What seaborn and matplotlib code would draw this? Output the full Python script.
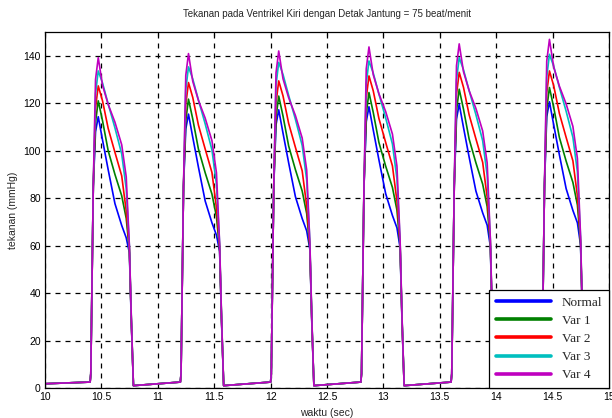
import numpy as np
import pandas as pd
import matplotlib
matplotlib.use("Agg")
import matplotlib.pyplot as plt
import seaborn as sns

# Beat onsets (s) for the six cardiac cycles shown, 0.8 s apart (75 bpm)
beat_starts = [10.4, 11.2, 12.0, 12.8, 13.6, 14.4]
# Time offsets within one beat (s)
beat_offsets = [0.000, 0.006, 0.028, 0.048, 0.072, 0.110, 0.160,
                0.220, 0.280, 0.320, 0.348, 0.365, 0.384]
# Diastolic pressure at the window edges (mmHg)
t_begin, p_begin = 10.0, 1.8
t_end, p_end = 15.0, 1.8

# Left ventricular pressure (mmHg), one row per beat
normal = [
    [2.5, 6, 85, 108.0, 114.3, 104.5, 92.0, 77.7, 68.5, 63.3, 57.0, 28, 1],
    [2.5, 6, 85, 109.1, 115.4, 105.6, 93.1, 78.8, 69.6, 64.4, 57.6, 28, 1],
    [2.5, 6, 85, 110.9, 117.2, 107.4, 94.9, 80.6, 71.4, 66.2, 58.5, 28, 1],
    [2.5, 6, 85, 112.2, 118.5, 108.7, 96.2, 81.9, 72.7, 67.5, 59.1, 28, 1],
    [2.5, 6, 85, 113.3, 119.6, 109.8, 97.3, 83.0, 73.8, 68.6, 59.7, 28, 1],
    [2.5, 6, 85, 114.3, 120.6, 110.8, 98.3, 84.0, 74.8, 69.6, 60.2, 28, 1],
]
var1 = [
    [2.5, 6, 85, 112.0, 121.0, 112.6, 100.0, 90.0, 81.0, 71.5, 58.0, 29, 1],
    [2.5, 6, 85, 112.7, 121.7, 113.3, 100.7, 90.7, 81.7, 72.2, 58.4, 29, 1],
    [2.5, 6, 85, 114.0, 123.0, 114.6, 102.0, 92.0, 83.0, 73.5, 59.0, 29, 1],
    [2.5, 6, 85, 115.5, 124.5, 116.1, 103.5, 93.5, 84.5, 75.0, 59.8, 29, 1],
    [2.5, 6, 85, 116.9, 125.9, 117.5, 104.9, 94.9, 85.9, 76.4, 60.5, 29, 1],
    [2.5, 6, 85, 117.6, 126.6, 118.2, 105.6, 95.6, 86.6, 77.1, 60.8, 29, 1],
]
var2 = [
    [2.5, 6, 85, 118.0, 127.3, 121.0, 109.4, 99.3, 89.4, 74.6, 59.0, 29, 1],
    [2.5, 6, 85, 119.4, 128.7, 122.4, 110.8, 100.7, 90.8, 76.0, 59.7, 29, 1],
    [2.5, 6, 85, 120.1, 129.4, 123.1, 111.5, 101.4, 91.5, 76.7, 60.1, 29, 1],
    [2.5, 6, 85, 122.2, 131.5, 125.2, 113.6, 103.5, 93.6, 78.8, 61.1, 29, 1],
    [2.5, 6, 85, 123.7, 133.0, 126.7, 115.1, 105.0, 95.1, 80.3, 61.9, 29, 1],
    [2.5, 6, 85, 124.3, 133.6, 127.3, 115.7, 105.6, 95.7, 80.9, 62.2, 29, 1],
]
var3 = [
    [2.5, 6, 85, 124.0, 133.6, 128.5, 119.7, 109.6, 98.6, 84.0, 60.0, 30, 1],
    [2.5, 6, 85, 125.7, 135.3, 130.2, 121.4, 111.3, 100.3, 85.7, 60.9, 30, 1],
    [2.5, 6, 85, 127.6, 137.2, 132.1, 123.3, 113.2, 102.2, 87.6, 61.8, 30, 1],
    [2.5, 6, 85, 128.2, 137.8, 132.7, 123.9, 113.8, 102.8, 88.2, 62.1, 30, 1],
    [2.5, 6, 85, 129.6, 139.2, 134.1, 125.3, 115.2, 104.2, 89.6, 62.8, 30, 1],
    [2.5, 6, 85, 131.0, 140.6, 135.5, 126.7, 116.6, 105.6, 91.0, 63.5, 30, 1],
]
var4 = [
    [2.5, 6, 85, 130.0, 139.2, 127.5, 119.5, 112.0, 102.5, 89.0, 60.0, 30, 1],
    [2.5, 6, 85, 131.7, 140.9, 129.2, 121.2, 113.7, 104.2, 90.7, 60.9, 30, 1],
    [2.5, 6, 85, 132.8, 142.0, 130.3, 122.3, 114.8, 105.3, 91.8, 61.4, 30, 1],
    [2.5, 6, 85, 134.5, 143.7, 132.0, 124.0, 116.5, 107.0, 93.5, 62.3, 30, 1],
    [2.5, 6, 85, 135.8, 145.0, 133.3, 125.3, 117.8, 108.3, 94.8, 62.9, 30, 1],
    [2.5, 6, 85, 137.7, 146.9, 135.2, 127.2, 119.7, 110.2, 96.7, 63.9, 30, 1],
]

series_names = ["Normal", "Var 1", "Var 2", "Var 3", "Var 4"]
series_data = [normal, var1, var2, var3, var4]
colors = ["#0000ff", "#008000", "#ff0000", "#00bfbf", "#bf00bf"]
x_ticks = [10, 10.5, 11, 11.5, 12, 12.5, 13, 13.5, 14, 14.5, 15]
y_ticks = [0, 20, 40, 60, 80, 100, 120, 140]

rows = []
for name, beats in zip(series_names, series_data):
    rows.append((name, t_begin, p_begin))
    for start, vals in zip(beat_starts, beats):
        for off, v in zip(beat_offsets, vals):
            rows.append((name, start + off, v))
    rows.append((name, t_end, p_end))
df = pd.DataFrame(rows, columns=["series", "waktu", "tekanan"])

sns.set_theme(style="white")
plt.rcParams["font.family"] = ["Liberation Sans", "DejaVu Sans"]

fig = plt.figure(figsize=(6.12, 4.18), dpi=100)
ax = fig.add_axes([45 / 612, 1 - 388 / 418, (609 - 45) / 612, (388 - 32) / 418])

sns.lineplot(data=df, x="waktu", y="tekanan", hue="series",
             hue_order=series_names, palette=colors, estimator=None,
             sort=False, linewidth=1.2, ax=ax, legend=False)

ax.set_xlim(10, 15)
ax.set_ylim(0, 150)
ax.set_xticks(x_ticks)
ax.set_xticklabels([f"{t:g}" for t in x_ticks])
ax.set_yticks(y_ticks)
ax.grid(True, color="black", linestyle=(0, (4, 4)), linewidth=0.9)
ax.tick_params(direction="in", length=3, width=0.8, labelsize=7.5,
               top=True, right=True, colors="black", pad=3)
for s in ax.spines.values():
    s.set_visible(True)
    s.set_color("black")
    s.set_linewidth(0.9)

ax.set_title("Tekanan pada Ventrikel Kiri dengan Detak Jantung = 75 beat/menit",
             fontsize=7, pad=11)
ax.set_xlabel("waktu (sec)", fontsize=7.5, labelpad=4)
ax.set_ylabel("tekanan (mmHg)", fontsize=7.5, labelpad=4)

handles = [plt.Line2D([], [], color=c, linewidth=2.6) for c in colors]
leg = ax.legend(handles, series_names, loc="lower right", borderaxespad=0,
                frameon=True, fancybox=False, framealpha=1, edgecolor="black",
                prop={"family": "Liberation Serif", "size": 9.5},
                handlelength=4.2, labelspacing=0.45, handletextpad=0.8,
                borderpad=0.5)
leg.get_frame().set_linewidth(0.9)

fig.savefig("out.png", dpi=100)
